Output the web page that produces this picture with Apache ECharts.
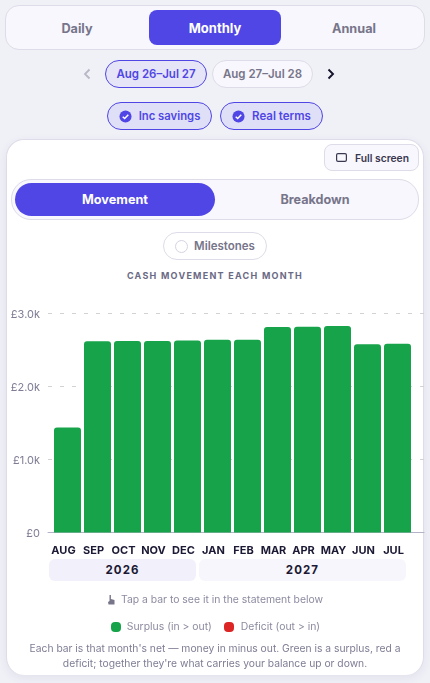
<!DOCTYPE html>
<html><head><meta charset="utf-8">
<script src="https://cdn.jsdelivr.net/npm/echarts@6/dist/echarts.min.js"></script>
<style>
html,body{margin:0;padding:0;width:430px;height:683px;overflow:hidden;background:#f0f0f7;font-family:Inter,"Noto Sans",sans-serif}
.a{position:absolute;box-sizing:border-box;display:flex;align-items:center;justify-content:center;white-space:nowrap}
#chart{position:absolute;left:0;top:295px;width:430px;height:265px}
</style></head><body>
<div class="a" style="left:5px;top:5px;width:420px;height:45px;background:#f8f7fd;border:1px solid #dddce8;border-radius:14px"></div>
<div class="a" style="left:5px;top:11px;width:144px;height:35px;font-size:12.7px;font-weight:700;color:#77758a">Daily</div>
<div class="a" style="left:149px;top:10px;width:132px;height:35px;font-size:13px;font-weight:700;color:#fff;background:#4f46e5;border-radius:8px">Monthly</div>
<div class="a" style="left:281px;top:11px;width:146px;height:35px;font-size:12.7px;font-weight:700;color:#77758a">Annual</div>
<svg class="a" style="left:81px;top:67px" width="12" height="14" viewBox="0 0 12 14"><path d="M8.5 2.5L4 7l4.5 4.5" fill="none" stroke="#b6b8c6" stroke-width="1.8"/></svg>
<div class="a" style="left:105px;top:60px;width:102px;height:28px;font-size:11.5px;font-weight:600;color:#4f46e5;background:#e6e4f7;border:1px solid #4f46e5;border-radius:14px">Aug 26–Jul 27</div>
<div class="a" style="left:212px;top:60px;width:101px;height:28px;font-size:11.5px;font-weight:600;color:#77758a;background:#f8f7fd;border:1px solid #dddce8;border-radius:14px">Aug 27–Jul 28</div>
<svg class="a" style="left:325px;top:67px" width="12" height="14" viewBox="0 0 12 14"><path d="M3.5 2.5L8 7l-4.5 4.5" fill="none" stroke="#15132b" stroke-width="1.9"/></svg>
<div class="a" style="left:107px;top:102px;width:105px;height:28px;font-size:11.3px;font-weight:600;color:#4f46e5;background:#e0dff8;border:1px solid #4f46e5;border-radius:14px;gap:7px"><svg width="13" height="13" viewBox="0 0 14 14"><circle cx="7" cy="7" r="6.5" fill="#4f46e5"/><path d="M4 7.2l2.1 2L10 5" fill="none" stroke="#fff" stroke-width="1.6"/></svg>Inc savings</div>
<div class="a" style="left:220px;top:102px;width:103px;height:28px;font-size:11.5px;font-weight:600;color:#4f46e5;background:#e0dff8;border:1px solid #4f46e5;border-radius:14px;gap:7px"><svg width="13" height="13" viewBox="0 0 14 14"><circle cx="7" cy="7" r="6.5" fill="#4f46e5"/><path d="M4 7.2l2.1 2L10 5" fill="none" stroke="#fff" stroke-width="1.6"/></svg>Real terms</div>
<div class="a" style="left:6px;top:139px;width:418px;height:536px;background:#fff;border:1px solid #dddce8;border-bottom:none;border-radius:18px;box-shadow:0 3px 10px rgba(60,60,110,.08)"></div>
<div class="a" style="left:324px;top:144px;width:95px;height:27px;font-size:10.3px;font-weight:600;color:#3a3850;background:#f8f7fd;border:1px solid #dddce8;border-radius:8px;gap:8px;padding-left:2px"><svg width="11" height="9" viewBox="0 0 11 9"><rect x=".6" y=".6" width="9.8" height="7.8" rx="1.4" fill="none" stroke="#3a3850" stroke-width="1.2"/></svg>Full screen</div>
<div class="a" style="left:11px;top:179px;width:408px;height:41px;background:#f8f7fd;border:1px solid #dddce8;border-radius:20px"></div>
<div class="a" style="left:15px;top:183px;width:200px;height:33px;font-size:12.7px;font-weight:700;color:#fff;background:#4f46e5;border-radius:16.5px">Movement</div>
<div class="a" style="left:215px;top:183px;width:200px;height:33px;font-size:12.6px;font-weight:700;color:#77758a">Breakdown</div>
<div class="a" style="left:163px;top:232px;width:104px;height:28px;font-size:11.5px;font-weight:600;color:#77758a;background:#fff;border:1px solid #dddce8;border-radius:14px;gap:6px"><span style="width:13px;height:13px;box-sizing:border-box;border:1px solid #d5d4e2;border-radius:50%"></span>Milestones</div>
<div class="a" style="left:6px;top:268px;width:418px;height:14px;font-size:9px;font-weight:700;letter-spacing:1.26px;color:#6b6a85">CASH MOVEMENT EACH MONTH</div>
<div id="chart"></div>
<div class="a" style="left:49px;top:559px;width:147px;height:22px;background:#f2f1fb;border-radius:6px;font-size:11.5px;font-weight:700;letter-spacing:1.1px;color:#1b1934">2026</div>
<div class="a" style="left:199px;top:559px;width:207px;height:22px;background:#f7f6fc;border-radius:6px;font-size:11.5px;font-weight:700;letter-spacing:1.1px;color:#1b1934">2027</div>
<div class="a" style="left:6px;top:592px;width:418px;height:15px;font-size:10.4px;color:#8c8ba0;gap:6px"><svg width="8" height="11" viewBox="0 0 8 11"><path d="M2.5 1h1.4v4l3.6 1v4.5H1.5L1 8l1.5-1z" fill="#77758a"/></svg>Tap a bar to see it in the statement below</div>
<div class="a" style="left:6px;top:619px;width:418px;height:15px;font-size:10.4px;color:#8c8ba0;padding-left:1px"><span style="width:10px;height:10px;border-radius:4px;background:#16a34a;margin-right:6px"></span>Surplus (in &gt; out)<span style="width:10px;height:10px;border-radius:4px;background:#dc2626;margin:0 7px 0 12px"></span>Deficit (out &gt; in)</div>
<div class="a" style="left:6px;top:640px;width:418px;height:15px;font-size:10.3px;color:#7e7d94">Each bar is that month's net — money in minus out. Green is a surplus, red a</div>
<div class="a" style="left:6px;top:655px;width:418px;height:15px;font-size:10.3px;color:#7e7d94">deficit; together they're what carries your balance up or down.</div>
<script>
const months = ['AUG','SEP','OCT','NOV','DEC','JAN','FEB','MAR','APR','MAY','JUN','JUL'];
const netValues = [1440,2620,2625,2625,2630,2640,2640,2815,2820,2830,2580,2585];
const yMax = 3000;
const yStep = 1000;
const yFormat = v => v === 0 ? '£0' : '£' + (v/1000).toFixed(1) + 'k';
const chart = echarts.init(document.getElementById('chart'));
const top0 = 18.5, h = 219;
chart.setOption({
  animation:false,
  grid:[
    {left:48,width:376,top:top0,height:h},
    {left:52.5,width:360,top:top0,height:h},
    {left:48,width:376,top:top0+1.5,height:h}
  ],
  xAxis:[
    {gridIndex:0,type:'value',min:0,max:1,show:true,axisLine:{show:true,onZero:false,lineStyle:{color:'#b3b2c6',width:1}},axisTick:{show:false},axisLabel:{show:false},splitLine:{show:false}},
    {gridIndex:1,type:'category',data:months,axisLine:{show:false},axisTick:{show:false},
     axisLabel:{interval:0,margin:13,padding:[0,8,0,0],fontFamily:'Inter',fontSize:11,fontWeight:700,color:'#1b1934'}},
    {gridIndex:2,type:'value',min:0,max:1,show:false}
  ],
  yAxis:[
    {gridIndex:0,type:'value',min:0,max:yMax,interval:yStep,axisLine:{show:false},axisTick:{show:false},axisLabel:{show:false},
     splitLine:{lineStyle:{type:[4,8],color:'#d2d2d2',width:1}}},
    {gridIndex:1,type:'value',min:0,max:yMax,interval:yStep,show:false,splitLine:{show:false}},
    {gridIndex:2,type:'value',min:0,max:yMax,interval:yStep,axisLine:{show:false},axisTick:{show:false},splitLine:{show:false},
     axisLabel:{margin:8,fontFamily:'Inter',fontSize:11,color:'#7e7d94',formatter:yFormat}}
  ],
  series:[{type:'bar',xAxisIndex:1,yAxisIndex:1,data:netValues,barWidth:27,
    itemStyle:{color:'#16a34a',borderRadius:[3,3,0,0]}}]
});
</script>
</body></html>
